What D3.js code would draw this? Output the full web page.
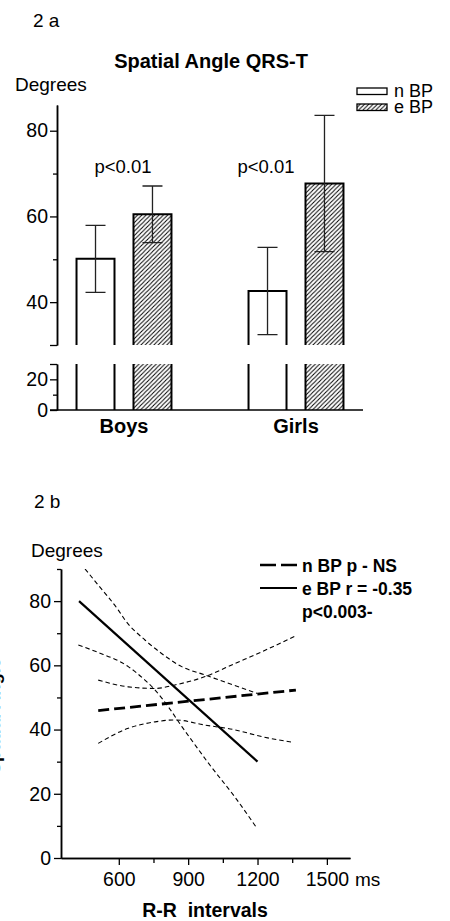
<!DOCTYPE html>
<html>
<head>
<meta charset="utf-8">
<script src="https://cdn.jsdelivr.net/npm/d3@7"></script>
<style>
  body { margin: 0; background: #fff; }
  svg { display: block; font-family: "Liberation Sans", Arial, sans-serif; }
  text { fill: #000; }
</style>
</head>
<body>
<div id="chart"></div>
<script>
// ---- panel 2a: spatial QRS-T angle, mean with error bars
const groups = ["Boys", "Girls"];
const series = ["n BP", "e BP"];
const meanNBP = [50.1, 42.6];
const errNBP = [7.8, 10.2];
const meanEBP = [60.5, 67.7];
const errEBP = [6.6, 15.9];
const pLabels = ["p<0.01", "p<0.01"];
const upperTicks = [40, 60, 80];
const upperMinor = [30, 50, 70];
const lowerTicks = [0, 20];
const lowerMinor = [10, 30];

// ---- panel 2b: regression of angle on R-R interval, with 95% bands
const rrTicks = [600, 900, 1200, 1500];
const rrMinor = [750, 1050, 1350];
const degTicks = [0, 20, 40, 60, 80];
const degMinor = [10, 30, 50, 70, 90];
const eFit = [[428, 80], [1200, 30]];
const nFit = [[511, 45.9], [1366, 52.3]];
const eUpper = [[454, 90], [511, 85.0], [598, 77.2], [627, 74.1], [713, 67.9], [785, 63.7],
                [872, 59.6], [973, 57.0], [1074, 54.4], [1200, 51.2]];
const eLower = [[425, 66.3], [504, 64.2], [641, 59.6], [713, 55.4], [757, 52.3], [814, 47.1],
                [872, 41.0], [930, 35.2], [987, 29.6], [1103, 18.9], [1198, 9.2]];
const nUpper = [[511, 55.4], [641, 53.3], [757, 52.8], [843, 53.9], [973, 56.5], [1103, 60.6],
                [1218, 64.2], [1362, 69.1]];
const nLower = [[511, 35.7], [641, 40.4], [757, 42.4], [843, 43.0], [973, 41.4], [1103, 39.9],
                [1218, 37.8], [1355, 36.0]];

const W = 450, H = 921;
const svg = d3.select("#chart").append("svg").attr("width", W).attr("height", H);

// hatch for e BP
const defs = svg.append("defs");
const hatch = defs.append("pattern")
  .attr("id", "hatch").attr("patternUnits", "userSpaceOnUse")
  .attr("width", 4.3).attr("height", 4.3);
hatch.append("rect").attr("width", 4.3).attr("height", 4.3).attr("fill", "#fff");
hatch.append("path")
  .attr("d", "M0,4.3 L4.3,0 M-1,1 L1,-1 M3.3,5.3 L5.3,3.3")
  .attr("stroke", "#000").attr("stroke-width", 1);

function styleAxis(g, fs) {
  g.select(".domain").attr("stroke", "#000").attr("stroke-width", 1.5);
  g.selectAll(".tick line").attr("stroke", "#000").attr("stroke-width", 1.3);
  g.selectAll(".tick text").attr("fill", "#000").style("font-size", fs + "px")
    .style("font-family", '"Liberation Sans", Arial, sans-serif');
}

function drawPanelA() {
  const xAxisY = 410;
  const xGroup = d3.scaleBand().domain(groups).range([57, 363])
    .paddingInner(0.448).paddingOuter(0.1135);
  const xSub = d3.scaleBand().domain(series).range([0, xGroup.bandwidth()]).paddingInner(1 / 3);
  const yUp = d3.scaleLinear().domain([30, 86]).range([345, 105]);
  const yLo = d3.scaleLinear().domain([0, 30]).range([410, 364]);

  svg.append("text").attr("x", 33).attr("y", 27).style("font-size", "19px").text("2 a");
  svg.append("text").attr("x", 211).attr("y", 68).attr("text-anchor", "middle")
    .style("font-size", "20px").style("font-weight", "bold").text("Spatial Angle QRS-T");
  svg.append("text").attr("x", 15).attr("y", 91).style("font-size", "19px").text("Degrees");

  // broken y axis: upper and lower pieces
  let g = svg.append("g").attr("transform", "translate(57,0)")
    .call(d3.axisLeft(yUp).tickValues(upperTicks).tickSize(7).tickSizeOuter(0).tickPadding(2));
  styleAxis(g, 19.5);
  g = svg.append("g").attr("transform", "translate(57,0)")
    .call(d3.axisLeft(yUp).tickValues(upperMinor).tickSize(4).tickSizeOuter(0).tickFormat(""));
  styleAxis(g, 19.5);
  g.selectAll(".tick").filter(d => d === 30).select("line").attr("x2", -7);
  g = svg.append("g").attr("transform", "translate(57,0)")
    .call(d3.axisLeft(yLo).tickValues(lowerTicks).tickSize(7).tickSizeOuter(0).tickPadding(2));
  styleAxis(g, 19.5);
  g = svg.append("g").attr("transform", "translate(57,0)")
    .call(d3.axisLeft(yLo).tickValues(lowerMinor).tickSize(4).tickSizeOuter(0).tickFormat(""));
  styleAxis(g, 19.5);
  g.selectAll(".tick").filter(d => d === 30).select("line").attr("x2", -7);

  const bars = [];
  groups.forEach((grp, i) => {
    bars.push({ grp: grp, s: "n BP", m: meanNBP[i], e: errNBP[i] });
    bars.push({ grp: grp, s: "e BP", m: meanEBP[i], e: errEBP[i] });
  });
  const bw = xSub.bandwidth();
  bars.forEach(b => {
    const x0 = xGroup(b.grp) + xSub(b.s);
    const fill = b.s === "n BP" ? "#fff" : "url(#hatch)";
    // upper piece
    svg.append("rect").attr("x", x0).attr("y", yUp(b.m)).attr("width", bw)
      .attr("height", yUp(30) - yUp(b.m)).attr("fill", fill);
    svg.append("path")
      .attr("d", `M${x0},${yUp(30)}V${yUp(b.m)}H${x0 + bw}V${yUp(30)}`)
      .attr("fill", "none").attr("stroke", "#000").attr("stroke-width", 2);
    // lower piece
    svg.append("rect").attr("x", x0).attr("y", yLo(30)).attr("width", bw)
      .attr("height", yLo(0) - yLo(30)).attr("fill", fill);
    svg.append("path")
      .attr("d", `M${x0},${yLo(30)}V${yLo(0)}M${x0 + bw},${yLo(30)}V${yLo(0)}`)
      .attr("fill", "none").attr("stroke", "#000").attr("stroke-width", 2);
    // error bar
    const cx = x0 + bw / 2;
    const hi = yUp(b.m + b.e), lo = yUp(b.m - b.e);
    svg.append("path")
      .attr("d", `M${cx},${hi}V${lo}M${cx - 10},${hi}H${cx + 10}M${cx - 10},${lo}H${cx + 10}`)
      .attr("fill", "none").attr("stroke", "#222").attr("stroke-width", 1.3);
  });

  // baseline
  svg.append("line").attr("x1", 50).attr("x2", 363).attr("y1", xAxisY).attr("y2", xAxisY)
    .attr("stroke", "#000").attr("stroke-width", 1.5);

  const pShift = [-1, -30];
  groups.forEach((grp, i) => {
    const c = xGroup(grp) + xGroup.bandwidth() / 2;
    svg.append("text").attr("x", c).attr("y", 433).attr("text-anchor", "middle")
      .style("font-size", "20px").style("font-weight", "bold").text(grp);
    svg.append("text").attr("x", c + pShift[i]).attr("y", 173).attr("text-anchor", "middle")
      .style("font-size", "18.5px").text(pLabels[i]);
  });

  // legend
  series.forEach((s, i) => {
    svg.append("rect").attr("x", 357).attr("y", 88 + i * 16).attr("width", 30).attr("height", 6.5)
      .attr("fill", i === 0 ? "#fff" : "url(#hatch)").attr("stroke", "#000").attr("stroke-width", 1.3);
    svg.append("text").attr("x", 394).attr("y", 97 + i * 16).style("font-size", "18px").text(s);
  });
}

function drawPanelB() {
  const x = d3.scaleLinear().domain([350, 1600]).range([61, 350]);
  const y = d3.scaleLinear().domain([0, 90]).range([858, 569]);

  svg.append("text").attr("x", 34).attr("y", 508).style("font-size", "19px").text("2 b");
  svg.append("text").attr("x", 31).attr("y", 557).style("font-size", "19px").text("Degrees");

  let g = svg.append("g").attr("transform", "translate(61,0)")
    .call(d3.axisLeft(y).tickValues(degTicks).tickSize(7).tickSizeOuter(0).tickPadding(3));
  styleAxis(g, 19.5);
  g = svg.append("g").attr("transform", "translate(61,0)")
    .call(d3.axisLeft(y).tickValues(degMinor).tickSize(4).tickSizeOuter(0).tickFormat(""));
  styleAxis(g, 19.5);
  g = svg.append("g").attr("transform", "translate(0,858)")
    .call(d3.axisBottom(x).tickValues(rrTicks).tickFormat(d3.format("d"))
      .tickSize(7).tickSizeOuter(0).tickPadding(7));
  styleAxis(g, 19.5);
  g = svg.append("g").attr("transform", "translate(0,858)")
    .call(d3.axisBottom(x).tickValues(rrMinor).tickSize(5).tickSizeOuter(0).tickFormat(""));
  styleAxis(g, 19.5);

  svg.append("text").attr("x", 355).attr("y", 886).style("font-size", "19px").text("ms");
  svg.append("text").attr("x", 205).attr("y", 917).attr("text-anchor", "middle")
    .style("font-size", "19.5px").style("font-weight", "bold").style("white-space", "pre")
    .text("R-R  intervals");
  // y title sits mostly off the left edge, as in the original
  svg.append("text").attr("transform", "translate(-0.5,716) rotate(-90)")
    .attr("text-anchor", "middle").attr("fill", "#000")
    .style("font-size", "18.5px").style("font-weight", "bold")
    .text("Spatial Angle");

  defs.append("clipPath").attr("id", "plotb").append("rect")
    .attr("x", x(350)).attr("y", y(90)).attr("width", x(1600) - x(350)).attr("height", y(0) - y(90));

  const line = d3.line().x(d => x(d[0])).y(d => y(d[1])).curve(d3.curveMonotoneX);
  const plot = svg.append("g").attr("clip-path", "url(#plotb)");

  [eUpper, eLower, nUpper, nLower].forEach(band => {
    plot.append("path").attr("d", line(band)).attr("fill", "none")
      .attr("stroke", "#000").attr("stroke-width", 1.1).attr("stroke-dasharray", "4.5,3");
  });
  plot.append("path").attr("d", line(nFit)).attr("fill", "none")
    .attr("stroke", "#000").attr("stroke-width", 2.8).attr("stroke-dasharray", "11,5");
  plot.append("path").attr("d", line(eFit)).attr("fill", "none")
    .attr("stroke", "#000").attr("stroke-width", 2.2);

  // legend
  svg.append("line").attr("x1", 260).attr("x2", 297).attr("y1", 565).attr("y2", 565)
    .attr("stroke", "#000").attr("stroke-width", 2.5).attr("stroke-dasharray", "16,5");
  svg.append("line").attr("x1", 260).attr("x2", 297).attr("y1", 588).attr("y2", 588)
    .attr("stroke", "#000").attr("stroke-width", 2.2);
  const lg = [["n BP p - NS", 571.5], ["e BP r = -0.35", 595], ["p<0.003-", 618]];
  lg.forEach(t => {
    svg.append("text").attr("x", 302).attr("y", t[1]).style("font-size", "17.5px")
      .style("font-weight", "bold").text(t[0]);
  });
}

drawPanelA();
drawPanelB();
</script>
</body>
</html>
